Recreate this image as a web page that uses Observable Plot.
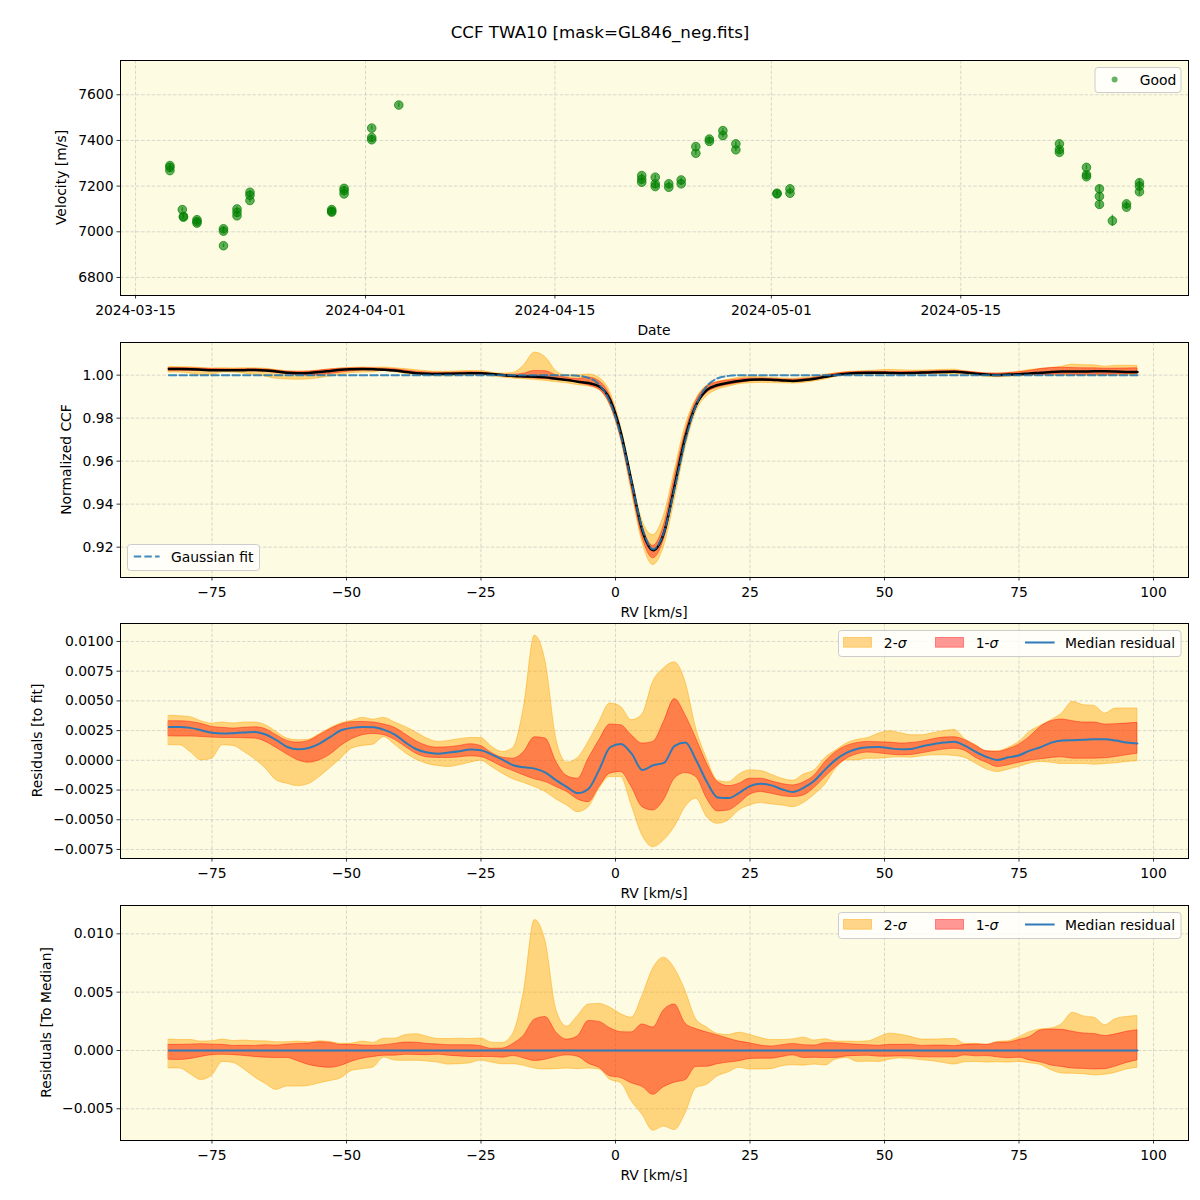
<!DOCTYPE html>
<html><head><meta charset="utf-8">
<script src="https://cdn.jsdelivr.net/npm/d3@7"></script>
<script src="https://cdn.jsdelivr.net/npm/@observablehq/plot@0.6"></script>
<style>
body{margin:0;background:#fff;}
#wrap{position:relative;width:1200px;height:1200px;overflow:hidden;}
#wrap svg{position:absolute;left:0;}
</style></head><body><div id="wrap"></div>
<script>
// ---------- Panel 1: RV time series ----------
const obsDate = [
"2024-03-17T13:00","2024-03-17T13:00","2024-03-17T13:00",
"2024-03-18T11:00","2024-03-18T13:00","2024-03-18T13:00",
"2024-03-19T13:00","2024-03-19T13:00","2024-03-19T13:00",
"2024-03-21T12:00","2024-03-21T12:00","2024-03-21T12:00",
"2024-03-22T12:00","2024-03-22T12:00","2024-03-22T12:00",
"2024-03-23T11:00","2024-03-23T11:00","2024-03-23T11:00",
"2024-03-29T12:00","2024-03-29T12:00","2024-03-29T12:00",
"2024-03-30T10:00","2024-03-30T10:00","2024-03-30T10:00",
"2024-04-01T11:00","2024-04-01T11:00","2024-04-01T11:00",
"2024-04-03T11:00",
"2024-04-21T10:00","2024-04-21T10:00","2024-04-21T10:00",
"2024-04-22T10:00","2024-04-22T10:00","2024-04-22T10:00",
"2024-04-23T10:00","2024-04-23T10:00",
"2024-04-24T08:00","2024-04-24T08:00",
"2024-04-25T10:00","2024-04-25T10:00",
"2024-04-26T10:00","2024-04-26T10:00",
"2024-04-27T10:00","2024-04-27T10:00",
"2024-04-28T09:00","2024-04-28T09:00",
"2024-05-01T10:00","2024-05-01T10:00",
"2024-05-02T09:00","2024-05-02T09:00",
"2024-05-22T07:00","2024-05-22T07:00","2024-05-22T07:00",
"2024-05-24T07:00","2024-05-24T07:00","2024-05-24T07:00",
"2024-05-25T06:00","2024-05-25T06:00","2024-05-25T06:00",
"2024-05-26T05:00",
"2024-05-27T06:00","2024-05-27T06:00",
"2024-05-28T05:00","2024-05-28T05:00","2024-05-28T05:00"
];
const obsVel = [
7290,7282,7268, 7097,7064,7068, 7053,7045,7038, 7013,7003,6939,
7100,7085,7070, 7173,7160,7137, 7097,7090,7086, 7190,7180,7166,
7454,7413,7403, 7555,
7246,7230,7217, 7239,7210,7198, 7210,7195, 7227,7210, 7373,7344,
7406,7396, 7443,7421, 7385,7359, 7169,7166, 7188,7169,
7385,7360,7348, 7282,7250,7241, 7188,7155,7120, 7048, 7122,7108,
7215,7200,7175
];
const obsErr = [
8,8,8, 8,8,8, 8,8,8, 8,8,8, 8,8,8, 8,8,8, 8,8,8, 8,8,8, 8,8,8, 10,
8,8,8, 8,8,8, 8,8, 8,8, 8,8, 8,8, 8,8, 8,8, 8,8, 8,8,
9,9,9, 10,10,10, 15,15,15, 25, 10,10, 15,15,15
];
const dateTicks = ["2024-03-15","2024-04-01","2024-04-15","2024-05-01","2024-05-15"];
const velTicks = [6800,7000,7200,7400,7600];

// ---------- CCF profile (RV grid, km/s) ----------
const rv = [
-83,-81,-79,-77,-75,-73,-71,-69,-67,-65,
-63,-61,-59,-57,-55,-53,-51,-49,-47,-45,
-43,-41,-39,-37,-35,-33,-31,-29,-27,-25,
-23,-21,-19,-17,-15,-13,-11,-9,-7,-5,
-3,-1,1,3,5,7,9,11,13,15,
17,19,21,23,25,27,29,31,33,35,
37,39,41,43,45,47,49,51,53,55,
57,59,61,63,65,67,69,71,73,75,
77,79,81,83,85,87,89,91,93,95,
97];
// Gaussian fit to the CCF
const gaussFit = [
1,1,1,1,1,1,1,1,1,1,
1,1,1,1,1,1,1,1,1,1,
1,1,1,1,1,1,1,1,1,1,
1,1,1,1,1,1,1,1,0.99971,0.99872,
0.99550,0.98739,0.97179,0.94970,0.92852,0.91902,0.92688,0.94737,0.96980,0.98619,
0.99496,0.99854,0.99966,1,1,1,1,1,1,1,
1,1,1,1,1,1,1,1,1,1,
1,1,1,1,1,1,1,1,1,1,
1,1,1,1,1,1,1,1,1,1,
1];
// Residuals to fit, in units of 1e-3
const resMed = [
2.81,2.81,2.73,2.53,2.31,2.25,2.28,2.33,2.39,2.17,
1.69,1.12,0.93,1.04,1.41,1.97,2.53,2.73,2.81,2.78,
2.56,2.17,1.49,0.93,0.65,0.56,0.65,0.76,0.90,0.84,
0.48,0.06,-0.42,-0.59,-0.70,-1.04,-1.69,-2.25,-2.76,-2.39,
-0.76,1.10,1.38,0.56,-0.82,-0.42,-0.22,1.21,1.49,0.00,
-1.83,-3.12,-3.18,-2.73,-2.17,-1.97,-2.11,-2.45,-2.67,-2.30,
-1.69,-0.76,0.08,0.65,0.98,1.10,1.12,1.01,0.93,0.96,
1.18,1.35,1.49,1.57,1.21,0.70,0.28,0.03,0.25,0.42,
0.82,1.10,1.49,1.66,1.69,1.72,1.77,1.77,1.66,1.49,
1.41];
const res1Hi = [
3.29,3.29,3.23,3.07,2.81,2.73,2.67,2.73,2.78,2.62,
2.11,1.63,1.49,1.63,2.11,2.62,3.01,3.21,3.23,3.18,
3.01,2.73,2.17,1.60,1.21,1.07,1.10,1.21,1.35,1.20,
0.62,0.22,0.14,0.70,1.94,1.83,-0.14,-1.32,-1.55,0.14,
1.69,3.01,2.95,2.11,1.41,1.55,3.23,5.15,3.80,1.83,
-0.28,-1.83,-2.17,-1.97,-1.55,-1.55,-1.77,-2.00,-2.11,-1.85,
-1.27,-0.14,0.70,1.21,1.46,1.55,1.52,1.49,1.41,1.46,
1.57,1.77,1.91,1.94,1.69,1.21,0.76,0.70,0.93,1.32,
1.97,2.81,3.29,3.43,3.29,3.18,3.18,3.01,3.04,3.09,
3.15];
const res1Lo = [
2.02,2.00,2.00,1.97,1.91,1.88,1.88,1.86,1.83,1.55,
1.04,0.48,0.00,-0.20,0.00,0.48,1.21,1.77,2.11,2.22,
2.11,1.72,1.12,0.55,0.25,0.20,0.20,0.25,0.34,0.28,
-0.08,-0.56,-0.90,-1.27,-1.60,-1.83,-2.25,-2.67,-3.29,-3.52,
-2.25,-1.12,-0.98,-2.25,-3.94,-4.22,-3.37,-1.55,-1.07,-1.41,
-3.23,-4.30,-4.22,-3.66,-2.90,-2.67,-2.81,-3.01,-3.09,-2.95,
-2.31,-1.41,-0.56,0.14,0.51,0.65,0.59,0.48,0.42,0.45,
0.59,0.76,0.90,0.98,0.79,0.20,-0.20,-0.56,-0.42,-0.20,
-0.03,0.08,0.20,0.25,0.14,0.14,0.14,0.17,0.28,0.42,
0.56];
const res2Hi = [
3.74,3.71,3.63,3.29,3.09,3.18,3.09,3.18,3.18,2.95,
2.39,1.83,1.69,1.74,2.20,2.70,3.10,3.32,3.57,3.43,
3.57,3.18,2.81,2.33,1.83,1.55,1.63,1.77,1.88,1.87,
1.15,0.70,1.04,4.50,10.49,8.30,1.80,-0.20,0.20,1.55,
3.23,4.78,4.50,3.37,3.85,6.60,7.73,8.24,6.60,2.67,
0.14,-1.70,-1.85,-1.21,-0.84,-0.90,-1.21,-1.55,-1.72,-1.20,
-0.84,0.20,0.84,1.41,1.72,1.88,2.25,2.45,2.28,2.11,
2.11,2.28,2.45,2.56,1.77,1.27,0.76,0.76,1.04,1.55,
2.39,2.90,3.37,3.94,4.92,4.64,4.58,3.94,4.36,4.36,
4.36];
const res2Lo = [
1.27,1.27,0.70,0.00,0.14,1.27,1.21,0.70,0.08,-0.70,
-1.69,-1.97,-2.17,-2.00,-1.41,-0.65,0.14,0.98,1.21,1.32,
1.95,1.30,0.60,0.05,-0.30,-0.48,-0.56,-0.42,-0.20,-0.03,
-0.56,-1.12,-1.60,-1.91,-2.25,-2.67,-3.29,-3.80,-4.36,-3.94,
-2.39,-1.41,-1.41,-3.80,-6.33,-7.31,-6.75,-5.62,-3.94,-3.23,
-4.78,-5.34,-5.06,-4.22,-3.80,-3.60,-3.71,-3.80,-3.94,-3.60,
-2.90,-2.05,-0.70,0.00,0.00,0.14,0.14,0.22,0.25,0.22,
0.34,0.42,0.42,0.37,0.20,-0.28,-0.76,-0.98,-0.79,-0.56,
-0.28,-0.14,-0.20,-0.31,-0.31,-0.31,-0.37,-0.31,-0.25,-0.14,
-0.08];
const rvTicks = [-75,-50,-25,0,25,50,75,100];
const ccfTicks = [0.92,0.94,0.96,0.98,1.00];
const fitResTicks = [-0.0075,-0.0050,-0.0025,0,0.0025,0.0050,0.0075,0.0100];
const medResTicks = [-0.005,0,0.005,0.010];

// ---------- tables ----------
const K = 1e-3;
const obs = obsDate.map((d, i) => ({date: new Date(d + "Z"), v: obsVel[i], e: obsErr[i]}));
const tFit = rv.map((x, i) => ({rv: x, med: resMed[i]*K, lo1: res1Lo[i]*K, hi1: res1Hi[i]*K, lo2: res2Lo[i]*K, hi2: res2Hi[i]*K}));
const tCcf = rv.map((x, i) => ({rv: x, fit: gaussFit[i], med: gaussFit[i] + resMed[i]*K,
  lo1: gaussFit[i] + res1Lo[i]*K, hi1: gaussFit[i] + res1Hi[i]*K, lo2: gaussFit[i] + res2Lo[i]*K, hi2: gaussFit[i] + res2Hi[i]*K}));
const tMed = rv.map((x, i) => ({rv: x, med: (resMed[i]-resMed[i])*K, lo1: (res1Lo[i]-resMed[i])*K, hi1: (res1Hi[i]-resMed[i])*K,
  lo2: (res2Lo[i]-resMed[i])*K, hi2: (res2Hi[i]-resMed[i])*K}));

// ---------- styling ----------
const FONT = "DejaVu Sans";
const FS = 13.9;
const BG = "#fdfbe2";
const GRID = {stroke: "#b0b0b0", strokeOpacity: 0.6, strokeWidth: 0.8, strokeDasharray: "3.5,1.8"};
const ORANGE = "orange", RED = "red", BLUE = "#2f7bb8";
const wrap = document.getElementById("wrap");

function panel({top, height, marginBottom, x, y, xTicks, xFmt, yTicks, yFmt, marks}) {
  const svg = Plot.plot({
    width: 1200, height, marginLeft: 120, marginRight: 12, marginTop: 10, marginBottom,
    x, y,
    style: {fontFamily: FONT, fontSize: FS + "px", color: "black", background: "transparent", overflow: "visible"},
    marks: [
      Plot.frame({fill: BG, stroke: "none"}),
      Plot.gridX(xTicks, GRID),
      Plot.gridY(yTicks, GRID),
      ...marks,
      Plot.frame({stroke: "black", strokeWidth: 1, fill: "none"}),
      Plot.axisX(xTicks, {tickSize: 3.5, tickPadding: 6.5, tickFormat: xFmt, label: null, strokeWidth: 0.8}),
      Plot.axisY(yTicks, {tickSize: 3.5, tickPadding: 3.5, tickFormat: yFmt, label: null, strokeWidth: 0.8})
    ]
  });
  svg.style.top = top + "px";
  wrap.appendChild(svg);
  return d3.select(svg);
}
function txt(g, x, y, s, anchor = "middle", rotate = false) {
  const t = g.append("text").attr("font-family", FONT).attr("font-size", FS).attr("fill", "black")
    .attr("text-anchor", anchor);
  if (rotate) t.attr("transform", `translate(${x},${y}) rotate(-90)`).attr("dy", "0.35em");
  else t.attr("x", x).attr("y", y);
  t.text(s);
  return t;
}
function legendBox(g, x, y, w, h) {
  g.append("rect").attr("x", x).attr("y", y).attr("width", w).attr("height", h).attr("rx", 3)
    .attr("fill", "white").attr("fill-opacity", 0.8).attr("stroke", "#cccccc").attr("stroke-width", 1);
}
function sigmaLegend(g) {
  legendBox(g, 838.5, 17.5, 342.5, 26);
  g.append("rect").attr("x", 843.5).attr("y", 24.5).attr("width", 28).attr("height", 9.7)
    .attr("fill", ORANGE).attr("fill-opacity", 0.45).attr("stroke", ORANGE).attr("stroke-opacity", 0.45);
  const a = txt(g, 883.8, 35, "2-", "start"); a.append("tspan").attr("font-style", "italic").text("σ");
  g.append("rect").attr("x", 935.5).attr("y", 24.5).attr("width", 28).attr("height", 9.7)
    .attr("fill", RED).attr("fill-opacity", 0.4).attr("stroke", RED).attr("stroke-opacity", 0.4);
  const b = txt(g, 975.7, 35, "1-", "start"); b.append("tspan").attr("font-style", "italic").text("σ");
  g.append("line").attr("x1", 1025).attr("x2", 1054.6).attr("y1", 29.5).attr("y2", 29.5)
    .attr("stroke", BLUE).attr("stroke-width", 2);
  txt(g, 1065.1, 35, "Median residual", "start");
}

// ---------- title ----------
const titleSvg = d3.create("svg").attr("width", 1200).attr("height", 50).style("top", "0px");
titleSvg.append("text").attr("x", 600).attr("y", 38).attr("text-anchor", "middle")
  .attr("font-family", FONT).attr("font-size", 16.7).text("CCF TWA10 [mask=GL846_neg.fits]");
wrap.appendChild(titleSvg.node());

// ---------- panel 1 ----------
{
  const g = panel({
    top: 50, height: 292, marginBottom: 47,
    x: {type: "utc", domain: [new Date("2024-03-13T21:20Z"), new Date("2024-05-31T20:00Z")]},
    y: {domain: [6721, 7750]},
    xTicks: dateTicks.map(d => new Date(d + "T00:00Z")), xFmt: d3.utcFormat("%Y-%m-%d"),
    yTicks: velTicks, yFmt: d3.format("d"),
    marks: [
      Plot.ruleX(obs, {x: "date", y1: d => d.v - d.e, y2: d => d.v + d.e, stroke: "green", strokeOpacity: 0.65, strokeWidth: 1.5}),
      Plot.dot(obs, {x: "date", y: "v", r: 4.3, fill: "green", fillOpacity: 0.62, stroke: "green", strokeOpacity: 0.7, strokeWidth: 1})
    ]
  });
  txt(g, 654, 285, "Date");
  txt(g, 61, 127.5, "Velocity [m/s]", "middle", true);
  legendBox(g, 1095, 17.5, 86, 25);
  g.append("circle").attr("cx", 1114.6).attr("cy", 29.5).attr("r", 3).attr("fill", "green").attr("fill-opacity", 0.6);
  txt(g, 1139.8, 34.5, "Good", "start");
}

// ---------- panel 2 ----------
{
  const g = panel({
    top: 332, height: 291, marginBottom: 46,
    x: {domain: [-92, 106.5]}, y: {domain: [0.90589, 1.01518]},
    xTicks: rvTicks, xFmt: d3.format("d"), yTicks: ccfTicks, yFmt: d3.format(".2f"),
    marks: [
      Plot.areaY(tCcf, {x: "rv", y1: "lo2", y2: "hi2", fill: ORANGE, fillOpacity: 0.45, stroke: ORANGE, strokeOpacity: 0.45, curve: "monotone-x"}),
      Plot.areaY(tCcf, {x: "rv", y1: "lo1", y2: "hi1", fill: RED, fillOpacity: 0.4, stroke: RED, strokeOpacity: 0.4, curve: "monotone-x"}),
      Plot.line(tCcf, {x: "rv", y: "med", stroke: "black", strokeWidth: 2.5, curve: "monotone-x"}),
      Plot.line(tCcf, {x: "rv", y: "fit", stroke: "#1f77b4", strokeOpacity: 0.85, strokeWidth: 2, strokeDasharray: "7.4,3.2", curve: "monotone-x"})
    ]
  });
  txt(g, 654, 285, "RV [km/s]");
  txt(g, 66, 127.5, "Normalized CCF", "middle", true);
  legendBox(g, 127.5, 212.5, 132, 26);
  g.append("line").attr("x1", 133.8).attr("x2", 159.6).attr("y1", 224.5).attr("y2", 224.5)
    .attr("stroke", "#1f77b4").attr("stroke-opacity", 0.85).attr("stroke-width", 2).attr("stroke-dasharray", "7.4,3.2");
  txt(g, 171, 229.5, "Gaussian fit", "start");
}

// ---------- panel 3 ----------
{
  const g = panel({
    top: 613, height: 292, marginBottom: 47,
    x: {domain: [-92, 106.5]}, y: {domain: [-0.00826, 0.01151]},
    xTicks: rvTicks, xFmt: d3.format("d"), yTicks: fitResTicks, yFmt: d3.format(".4f"),
    marks: [
      Plot.areaY(tFit, {x: "rv", y1: "lo2", y2: "hi2", fill: ORANGE, fillOpacity: 0.45, stroke: ORANGE, strokeOpacity: 0.45, curve: "monotone-x"}),
      Plot.areaY(tFit, {x: "rv", y1: "lo1", y2: "hi1", fill: RED, fillOpacity: 0.4, stroke: RED, strokeOpacity: 0.4, curve: "monotone-x"}),
      Plot.line(tFit, {x: "rv", y: "med", stroke: BLUE, strokeWidth: 2, curve: "monotone-x"})
    ]
  });
  txt(g, 654, 285, "RV [km/s]");
  txt(g, 37, 127.5, "Residuals [to fit]", "middle", true);
  sigmaLegend(g);
}

// ---------- panel 4 ----------
{
  const g = panel({
    top: 895, height: 300, marginBottom: 55,
    x: {domain: [-92, 106.5]}, y: {domain: [-0.00772, 0.01243]},
    xTicks: rvTicks, xFmt: d3.format("d"), yTicks: medResTicks, yFmt: d3.format(".3f"),
    marks: [
      Plot.areaY(tMed, {x: "rv", y1: "lo2", y2: "hi2", fill: ORANGE, fillOpacity: 0.45, stroke: ORANGE, strokeOpacity: 0.45, curve: "monotone-x"}),
      Plot.areaY(tMed, {x: "rv", y1: "lo1", y2: "hi1", fill: RED, fillOpacity: 0.4, stroke: RED, strokeOpacity: 0.4, curve: "monotone-x"}),
      Plot.line(tMed, {x: "rv", y: "med", stroke: BLUE, strokeWidth: 2})
    ]
  });
  txt(g, 654, 285, "RV [km/s]");
  txt(g, 46, 127.5, "Residuals [To Median]", "middle", true);
  sigmaLegend(g);
}
</script></body></html>
